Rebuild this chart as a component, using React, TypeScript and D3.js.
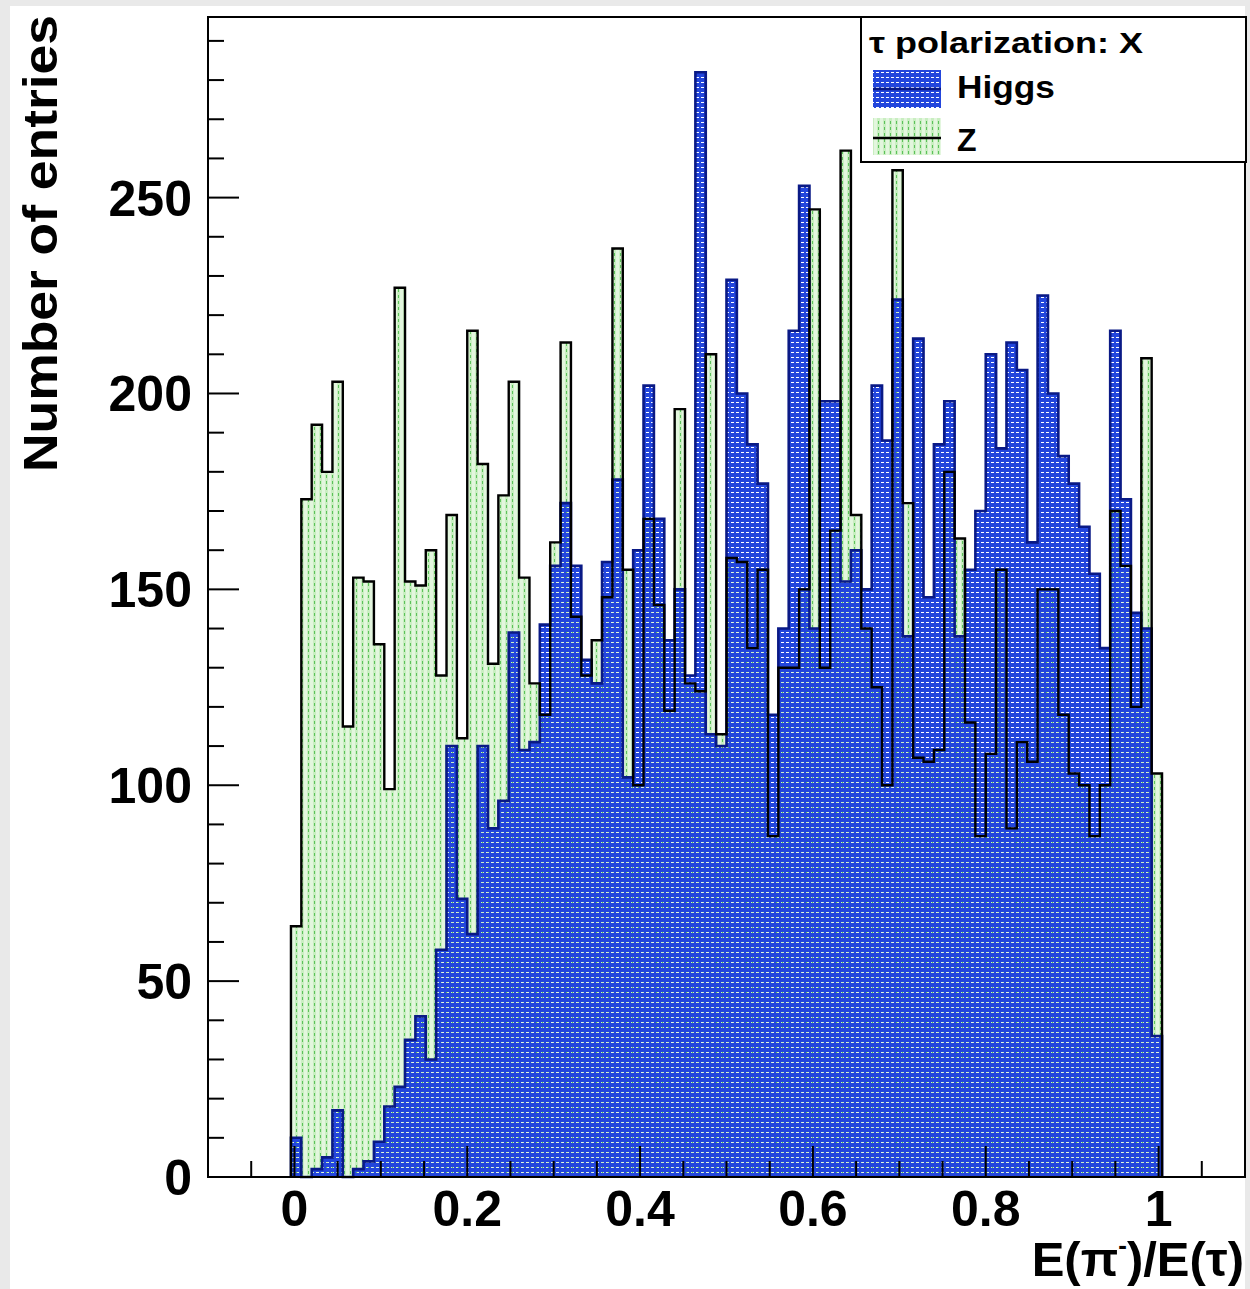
import React from 'react';
import * as d3 from 'd3';

// Histogram binning: 100 bins over the axis range, only bins 8..91 are filled
const X_MIN = -0.1;
const X_MAX = 1.1;
const N_BINS = 100;
const FIRST_BIN = 8;

// Bin contents, Higgs sample (bins 8..91)
const higgsCounts = [
  10, 0, 2, 5, 17, 0, 2, 4, 9, 18,
  23, 35, 41, 30, 58, 110, 71, 62, 110, 89,
  96, 139, 109, 111, 141, 156, 172, 156, 132, 126,
  157, 178, 102, 160, 202, 168, 137, 150, 128, 282,
  113, 110, 229, 200, 187, 177, 118, 140, 216, 253,
  140, 198, 198, 152, 160, 150, 202, 188, 224, 138,
  214, 148, 187, 198, 138, 155, 170, 210, 186, 213,
  206, 162, 225, 200, 184, 177, 166, 154, 135, 216,
  173, 144, 140, 36,
];

// Bin contents, Z sample (bins 8..91)
const zCounts = [
  64, 173, 192, 180, 203, 115, 153, 152, 136, 99,
  227, 152, 151, 160, 128, 169, 112, 216, 182, 131,
  174, 203, 153, 126, 118, 162, 213, 143, 128, 137,
  148, 237, 155, 100, 168, 146, 119, 196, 126, 124,
  210, 113, 158, 157, 135, 155, 87, 130, 130, 150,
  247, 130, 165, 262, 169, 140, 125, 100, 257, 172,
  107, 106, 109, 180, 163, 116, 87, 108, 155, 89,
  111, 106, 150, 150, 118, 103, 100, 87, 100, 170,
  156, 120, 209, 103,
];

const xTickValues = [0, 0.2, 0.4, 0.6, 0.8, 1];
const xTickLabels = ['0', '0.2', '0.4', '0.6', '0.8', '1'];
const yTickValues = [0, 50, 100, 150, 200, 250];
const yTickLabels = ['0', '50', '100', '150', '200', '250'];

const legendHeader = 'τ polarization: X';
const seriesNames = ['Higgs', 'Z'];
const yTitle = 'Number of entries';

const FONT = '"Liberation Sans", Arial, Helvetica, sans-serif';
const HIGGS_BLUE = '#2346dc';
const HIGGS_LINE = '#0a1a86';
const Z_LINE = '#000000';

export default function App() {
  const W = 1250;
  const H = 1289;
  const frame = { left: 208, right: 1245, top: 17, bottom: 1177 };

  const x = d3.scaleLinear().domain([X_MIN, X_MAX]).range([frame.left, frame.right]);
  const yMax = (d3.max(higgsCounts) as number) * 1.05;
  const y = d3.scaleLinear().domain([0, yMax]).range([frame.bottom, frame.top]);

  const binWidth = (X_MAX - X_MIN) / N_BINS;
  const edge = (i: number) => X_MIN + i * binWidth;

  // Closed step outline of a histogram starting and ending on the baseline
  const stepPoints = (vals: number[]): [number, number][] => {
    const p: [number, number][] = [[edge(FIRST_BIN), 0]];
    vals.forEach((v, i) => p.push([edge(FIRST_BIN + i), v]));
    const end = edge(FIRST_BIN + vals.length);
    p.push([end, vals[vals.length - 1]]);
    p.push([end, 0]);
    return p;
  };

  const stepLine = d3
    .line<[number, number]>()
    .x((d) => x(d[0]))
    .y((d) => y(d[1]))
    .curve(d3.curveStepAfter);

  const higgsPath = stepLine(stepPoints(higgsCounts)) as string;
  const zPath = stepLine(stepPoints(zCounts)) as string;

  const isMultiple = (v: number, step: number) =>
    Math.abs(v / step - Math.round(v / step)) < 1e-6;

  const xMinor = d3.range(-2, 23).map((i) => i * 0.05);
  const yMinor = d3.range(0, yMax, 10);

  const majorLen = 31;
  const minorLen = 16;

  return (
    <svg
      width={W}
      height={H}
      viewBox={`0 0 ${W} ${H}`}
      style={{ position: 'absolute', left: 0, top: 0, display: 'block' }}
    >
      <defs>
        {/* Blue fill with small see-through dashes */}
        <pattern id="higgsFill" patternUnits="userSpaceOnUse" width="5" height="5">
          <rect x="0" y="0" width="5" height="2" fill={HIGGS_BLUE} />
          <rect x="0" y="3" width="5" height="2" fill={HIGGS_BLUE} />
          <rect x="0" y="2" width="1" height="1" fill={HIGGS_BLUE} />
          <rect x="4" y="2" width="1" height="1" fill={HIGGS_BLUE} />
        </pattern>
        {/* Pale green fill with darker green dashes */}
        <pattern id="zFill" patternUnits="userSpaceOnUse" width="6" height="6">
          <rect x="0" y="0" width="6" height="6" fill="#e3f6de" />
          <rect x="1" y="0" width="3" height="6" fill="#c9eec1" />
          <rect x="2" y="1" width="1" height="3" fill="#5cc25a" />
        </pattern>
      </defs>

      <rect x={0} y={0} width={W} height={H} fill="#e9e9e9" />
      <rect x={10} y={6} width={W - 15} height={H - 6} fill="#ffffff" />

      {/* Fills: Z first, Higgs on top so the pale green shows through the dashes */}
      <path d={zPath + 'Z'} fill="url(#zFill)" stroke="none" />
      <path d={higgsPath + 'Z'} fill="url(#higgsFill)" stroke="none" />

      {/* Outlines */}
      <path d={higgsPath} fill="none" stroke={HIGGS_LINE} strokeWidth={2.6} />
      <path d={zPath} fill="none" stroke={Z_LINE} strokeWidth={2.4} />

      {/* Frame */}
      <rect
        x={frame.left}
        y={frame.top}
        width={frame.right - frame.left}
        height={frame.bottom - frame.top}
        fill="none"
        stroke="#000"
        strokeWidth={2}
      />

      {/* X ticks */}
      {xMinor.map((v, i) => {
        const major = isMultiple(v, 0.2);
        return (
          <line
            key={`xt${i}`}
            x1={x(v)}
            x2={x(v)}
            y1={frame.bottom}
            y2={frame.bottom - (major ? majorLen : minorLen)}
            stroke="#000"
            strokeWidth={2}
          />
        );
      })}
      {xTickValues.map((v, i) => (
        <text
          key={`xl${i}`}
          x={x(v)}
          y={1226}
          textAnchor="middle"
          fontFamily={FONT}
          fontWeight="bold"
          fontSize={50}
          fill="#000"
        >
          {xTickLabels[i]}
        </text>
      ))}

      {/* Y ticks */}
      {yMinor.map((v, i) => {
        const major = isMultiple(v, 50);
        return (
          <line
            key={`yt${i}`}
            x1={frame.left}
            x2={frame.left + (major ? majorLen : minorLen)}
            y1={y(v)}
            y2={y(v)}
            stroke="#000"
            strokeWidth={2}
          />
        );
      })}
      {yTickValues.map((v, i) => (
        <text
          key={`yl${i}`}
          x={192}
          y={y(v)}
          dy="0.36em"
          textAnchor="end"
          fontFamily={FONT}
          fontWeight="bold"
          fontSize={50}
          fill="#000"
        >
          {yTickLabels[i]}
        </text>
      ))}

      {/* Axis titles */}
      <text
        transform="translate(57,15) rotate(-90)"
        textAnchor="end"
        fontFamily={FONT}
        fontWeight="bold"
        fontSize={49}
        textLength={457}
        lengthAdjust="spacingAndGlyphs"
        fill="#000"
      >
        {yTitle}
      </text>
      <text
        x={1244}
        y={1276}
        textAnchor="end"
        fontFamily={FONT}
        fontWeight="bold"
        fontSize={49}
        fill="#000"
      >
        E(π<tspan fontSize={26} dy={-22}>-</tspan>
        <tspan dy={22}>)/E(τ)</tspan>
      </text>

      {/* Legend */}
      <rect x={861} y={17} width={385} height={145} fill="#ffffff" stroke="#000" strokeWidth={2} />
      <text
        x={869}
        y={53}
        fontFamily={FONT}
        fontWeight="bold"
        fontSize={30}
        textLength={274}
        lengthAdjust="spacingAndGlyphs"
        fill="#000"
      >
        {legendHeader}
      </text>
      <rect x={873} y={70} width={68} height={38} fill="url(#higgsFill)" />
      <line x1={873} x2={941} y1={89} y2={89} stroke={HIGGS_LINE} strokeWidth={2.6} />
      <text
        x={957}
        y={98}
        fontFamily={FONT}
        fontWeight="bold"
        fontSize={31}
        textLength={98}
        lengthAdjust="spacingAndGlyphs"
        fill="#000"
      >
        {seriesNames[0]}
      </text>
      <rect x={873} y={118} width={68} height={37} fill="url(#zFill)" />
      <line x1={873} x2={941} y1={138} y2={138} stroke={Z_LINE} strokeWidth={2.4} />
      <text
        x={957}
        y={151}
        fontFamily={FONT}
        fontWeight="bold"
        fontSize={32}
        fill="#000"
      >
        {seriesNames[1]}
      </text>
    </svg>
  );
}
